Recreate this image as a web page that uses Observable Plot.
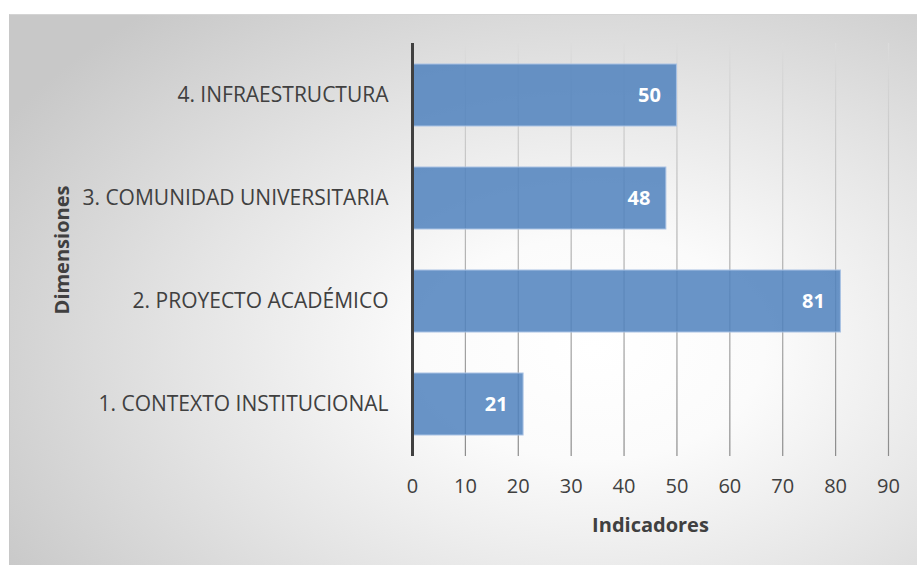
<!DOCTYPE html>
<html>
<head>
<meta charset="utf-8">
<script src="https://cdn.jsdelivr.net/npm/d3@7"></script>
<script src="https://cdn.jsdelivr.net/npm/@observablehq/plot@0.6"></script>
<style>
  html, body { margin: 0; padding: 0; background: #ffffff; }
  #wrap { position: relative; width: 917px; height: 565px; overflow: hidden; }
  #bg {
    position: absolute; left: 9px; top: 14px; width: 912px; height: 556px;
    background: radial-gradient(ellipse 75% 80% at 64% 60%, #ffffff 0%, #fbfbfb 25%, #e4e4e4 60%, #c8c8c8 100%);
    border-top: 1px solid #d4d4d4; border-left: 1px solid #c8c8c8;
  }
  #chart { position: absolute; left: 0; top: 0; }
</style>
</head>
<body>
<div id="wrap"><div id="bg"></div><div id="chart"></div></div>
<script>
const categories = ["4. INFRAESTRUCTURA", "3. COMUNIDAD UNIVERSITARIA", "2. PROYECTO ACADÉMICO", "1. CONTEXTO INSTITUCIONAL"];
const values = [50, 48, 81, 21];
const xTicks = [0, 10, 20, 30, 40, 50, 60, 70, 80, 90];
const xTitle = "Indicadores";
const yTitle = "Dimensiones";

const data = categories.map((c, i) => ({cat: c, val: values[i]}));
const font = "'Open Sans', sans-serif";

const chart = Plot.plot({
  width: 917,
  height: 565,
  marginLeft: 412,
  marginRight: 29,
  marginTop: 43,
  marginBottom: 109,
  style: {background: "transparent", fontFamily: font, color: "#404040", fontSize: "20px"},
  x: {domain: [0, 90], ticks: xTicks},
  y: {domain: categories, paddingInner: 0.4, paddingOuter: 0.2},
  marks: [
    Plot.ruleX(xTicks.slice(1), {stroke: "url(#gridgrad)", strokeWidth: 1.2}),
    Plot.barX(data, {x: "val", y: "cat", fill: "#4f81bd", fillOpacity: 0.85, stroke: "#a9c2e4", strokeWidth: 1}),
    Plot.text(data, {x: "val", y: "cat", text: d => String(d.val), textAnchor: "end", dx: -16, fill: "#ffffff", fontWeight: "bold", fontSize: 20}),
    Plot.ruleX([0], {stroke: "#404040", strokeWidth: 3}),
    Plot.axisX({ticks: xTicks, tickSize: 0, tickPadding: 22, fontSize: 20, label: null, fill: "#404040"}),
    Plot.axisY({tickSize: 0, tickPadding: 24, fontSize: 21, label: null, fill: "#404040"}),
    Plot.text([xTitle], {frameAnchor: "bottom", lineAnchor: "middle", dy: 69, fontWeight: "bold", fontSize: 20, fill: "#404040"}),
    Plot.text([yTitle], {frameAnchor: "left", textAnchor: "middle", lineAnchor: "middle", dx: -350, rotate: -90, fontWeight: "bold", fontSize: 20, fill: "#404040"})
  ]
});

const svg = d3.select(chart);
const defs = svg.insert("defs", ":first-child");
const g = defs.append("linearGradient").attr("id", "gridgrad").attr("gradientUnits", "userSpaceOnUse")
  .attr("x1", 0).attr("y1", 43).attr("x2", 0).attr("y2", 456);
g.append("stop").attr("offset", "0%").attr("stop-color", "#dcdcdc");
g.append("stop").attr("offset", "100%").attr("stop-color", "#8c8c8c");

document.getElementById("chart").appendChild(chart);
</script>
</body>
</html>
